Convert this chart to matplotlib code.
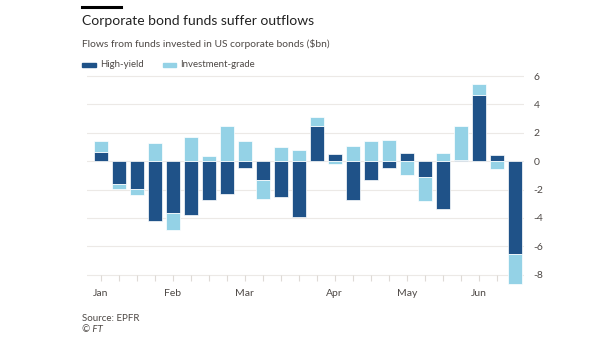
import numpy as np
import matplotlib.pyplot as plt

# Weekly flows, $bn
high_yield = [0.65, -1.63, -1.95, -4.19, -3.65, -3.77, -2.74, -2.30, -0.51, -1.33, -2.49, -3.95,
              2.47, 0.51, -2.70, -1.33, -0.51, 0.56, -1.14, -3.35, 0.12, 4.70, 0.42, -6.56]
inv_grade = [0.77, -0.33, -0.40, 1.30, -1.21, 1.72, 0.35, 2.49, 1.42, -1.32, 1.02, 0.79,
             0.65, -0.21, 1.09, 1.44, 1.53, -0.98, -1.65, 0.58, 2.35, 0.74, -0.58, -2.09]
month_labels = ['Jan', 'Feb', 'Mar', 'Apr', 'May', 'Jun']
month_weeks = [0, 4, 8, 13, 17, 21]
y_ticks = [6, 4, 2, 0, -2, -4, -6, -8]

dark = '#1f5288'
light = '#94d2e6'
text_col = '#4d4845'

plt.rcParams['font.family'] = ['Lato', 'DejaVu Sans']

hy = np.array(high_yield)
ig = np.array(inv_grade)
x = np.arange(len(hy))
# investment-grade stacks onto high-yield when both go the same way
ig_bottom = np.where(np.sign(ig) == np.sign(hy), hy, 0)

fig = plt.figure(figsize=(6.02, 3.38), dpi=100)
ax = fig.add_axes([0.144, 0.158, 0.726, 0.621])

ax.bar(x, hy, width=0.79, color=dark, edgecolor='white', linewidth=0.5, zorder=3)
ax.bar(x, ig, width=0.79, bottom=ig_bottom, color=light, edgecolor='white', linewidth=0.5, zorder=3)

ax.set_xlim(-0.78, 23.5)
ax.set_ylim(-8.7, 6.1)

for v in y_ticks:
    ax.axhline(v, color='#ece9e6', linewidth=0.8, zorder=1)
# small ticks hanging from the bottom gridline
ax.vlines(x, -8.42, -8, color='#dedad6', linewidth=0.8, zorder=1)

ax.yaxis.tick_right()
ax.set_yticks(y_ticks)
ax.set_yticklabels([str(v) for v in y_ticks], fontsize=7.5, color=text_col)
ax.tick_params(axis='y', length=0, pad=7)
ax.set_xticks(month_weeks)
ax.set_xticklabels(month_labels, fontsize=7.5, color=text_col)
ax.tick_params(axis='x', length=0, pad=3)
for s in ax.spines.values():
    s.set_visible(False)

# header
fig.add_artist(plt.Line2D([0.137, 0.201], [0.979, 0.979], color='black', linewidth=2.2))
fig.text(0.136, 0.937, 'Corporate bond funds suffer outflows', fontsize=10, color='#222222', va='center')
fig.text(0.136, 0.869, 'Flows from funds invested in US corporate bonds ($bn)', fontsize=7.4, color=text_col, va='center')

# legend
fig.patches.append(plt.Rectangle((0.137, 0.801), 0.022, 0.014, color=dark, transform=fig.transFigure))
fig.text(0.166, 0.808, 'High-yield', fontsize=6.9, color=text_col, va='center')
fig.patches.append(plt.Rectangle((0.271, 0.801), 0.022, 0.014, color=light, transform=fig.transFigure))
fig.text(0.300, 0.808, 'Investment-grade', fontsize=6.9, color=text_col, va='center')

fig.text(0.136, 0.059, 'Source: EPFR', fontsize=7, color=text_col, va='center')
fig.text(0.136, 0.024, '© FT', fontsize=7, color=text_col, va='center', style='italic')

fig.savefig('out.png', dpi=100, facecolor='white')
